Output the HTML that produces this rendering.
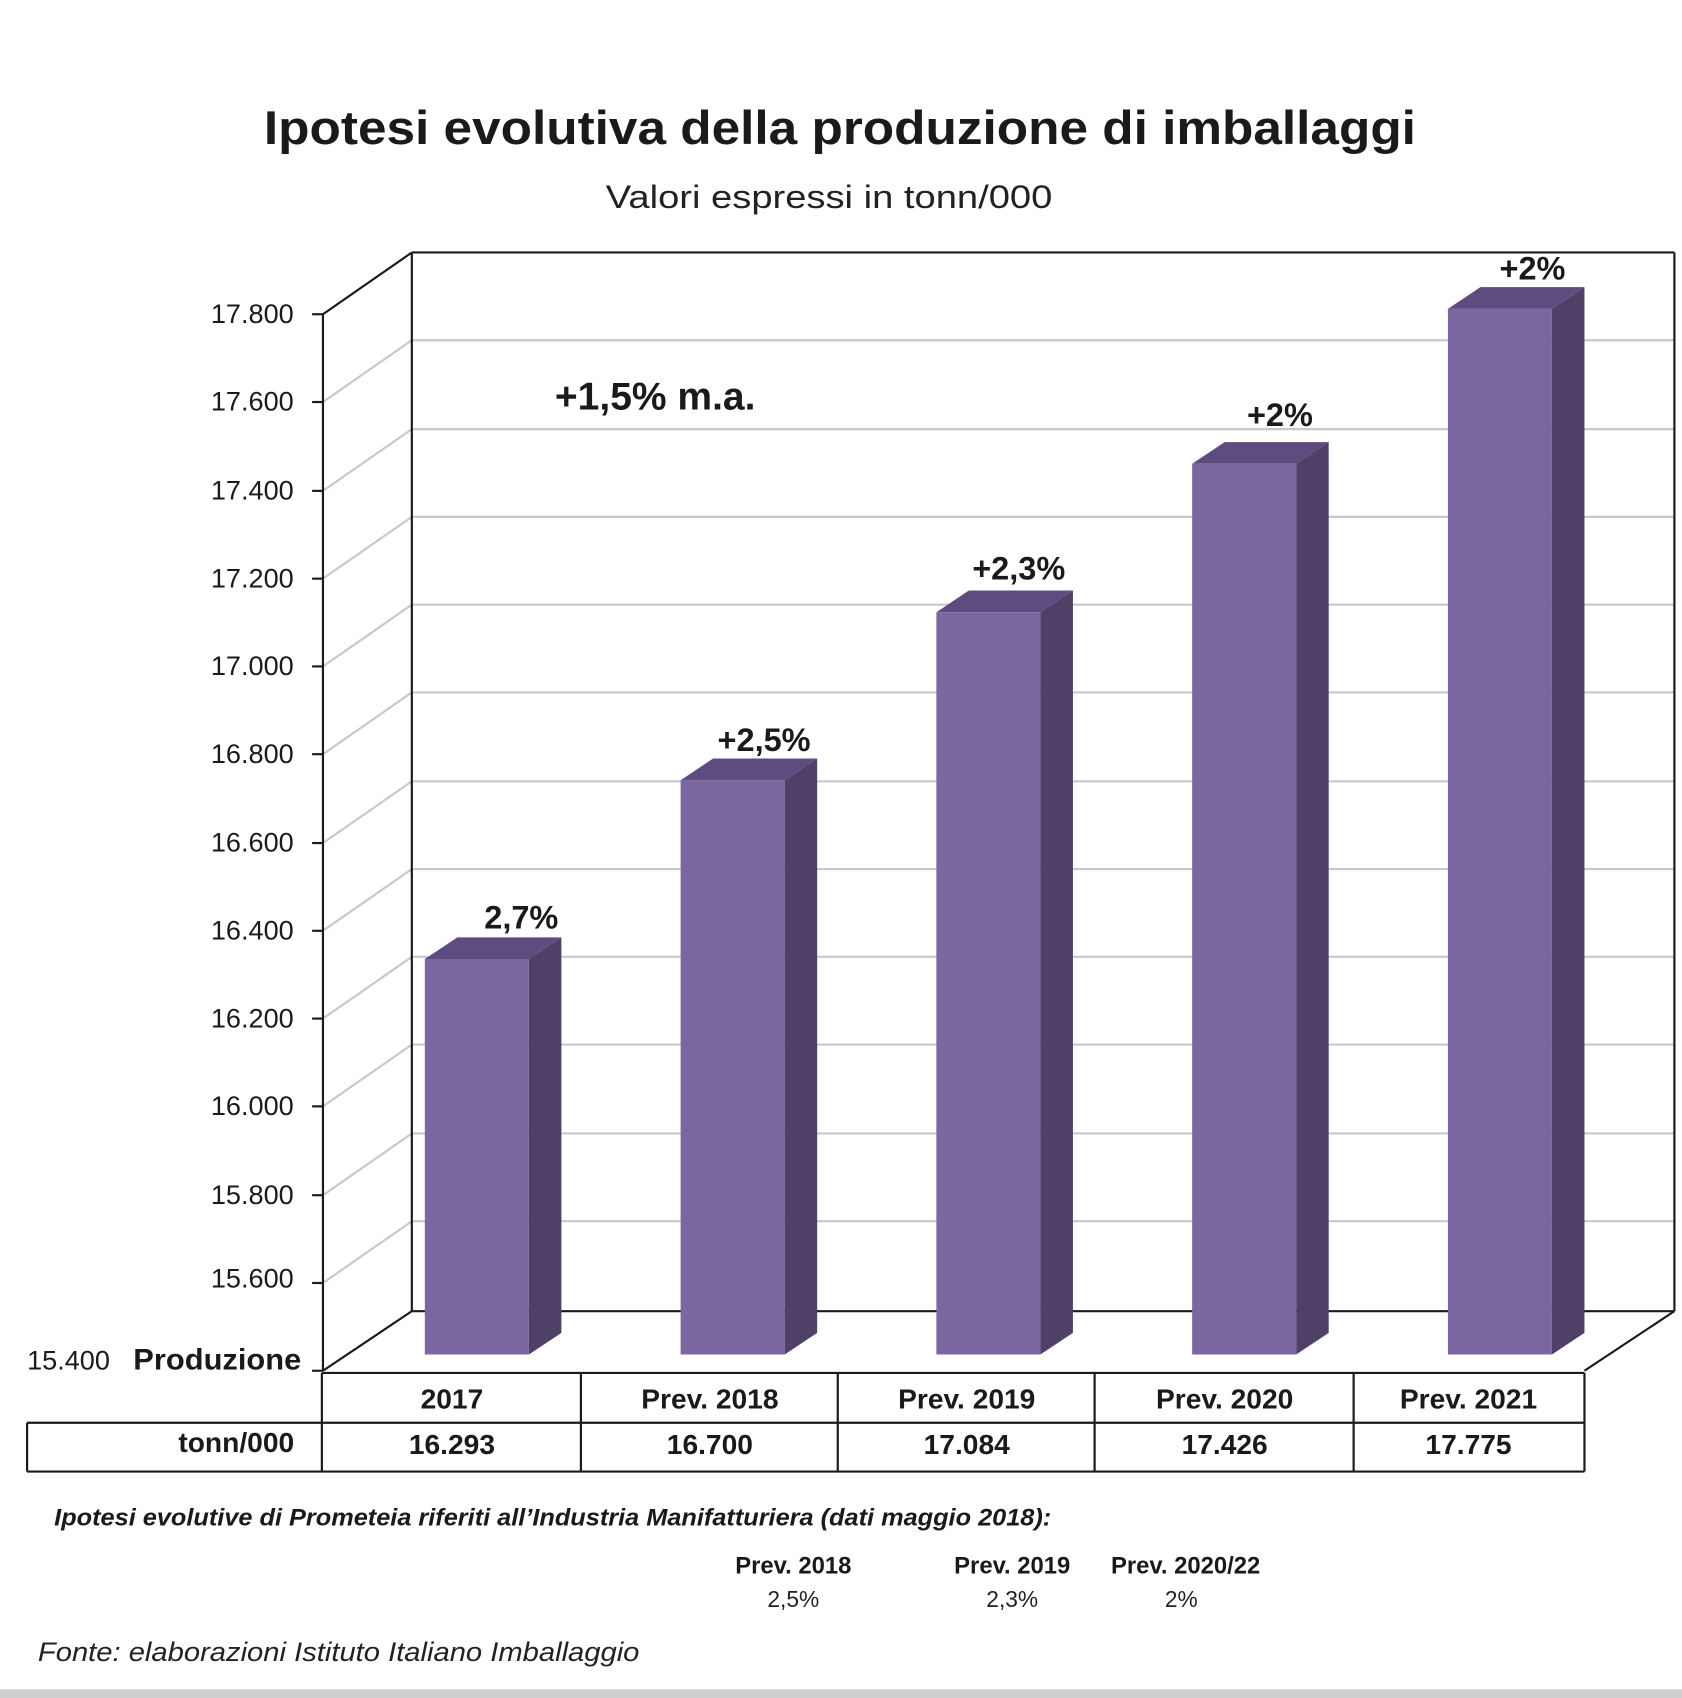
<!DOCTYPE html>
<html><head><meta charset="utf-8"><style>html,body{margin:0;padding:0;background:#fff}svg{display:block}</style></head>
<body>
<svg width="1682" height="1698" viewBox="0 0 1552 1567" preserveAspectRatio="none" xmlns="http://www.w3.org/2000/svg" font-family="Liberation Sans, sans-serif">
<rect width="1552" height="1567" fill="#fff"/>
<text x="775" y="133" text-anchor="middle" font-size="44" font-weight="bold" fill="#1a1a1a" textLength="1063" lengthAdjust="spacingAndGlyphs">Ipotesi evolutiva della produzione di imballaggi</text>
<text x="765" y="192" text-anchor="middle" font-size="30" fill="#222" textLength="412" lengthAdjust="spacingAndGlyphs">Valori espressi in tonn/000</text>
<g stroke="#c8c8c8" stroke-width="2" fill="none">
<line x1="298" y1="371" x2="380" y2="314"/><line x1="380" y1="314" x2="1545" y2="314"/>
<line x1="298" y1="453" x2="380" y2="396"/><line x1="380" y1="396" x2="1545" y2="396"/>
<line x1="298" y1="534" x2="380" y2="477"/><line x1="380" y1="477" x2="1545" y2="477"/>
<line x1="298" y1="615" x2="380" y2="558"/><line x1="380" y1="558" x2="1545" y2="558"/>
<line x1="298" y1="696" x2="380" y2="639"/><line x1="380" y1="639" x2="1545" y2="639"/>
<line x1="298" y1="778" x2="380" y2="721"/><line x1="380" y1="721" x2="1545" y2="721"/>
<line x1="298" y1="859" x2="380" y2="802"/><line x1="380" y1="802" x2="1545" y2="802"/>
<line x1="298" y1="940" x2="380" y2="883"/><line x1="380" y1="883" x2="1545" y2="883"/>
<line x1="298" y1="1021" x2="380" y2="964"/><line x1="380" y1="964" x2="1545" y2="964"/>
<line x1="298" y1="1103" x2="380" y2="1046"/><line x1="380" y1="1046" x2="1545" y2="1046"/>
<line x1="298" y1="1184" x2="380" y2="1127"/><line x1="380" y1="1127" x2="1545" y2="1127"/>
</g>
<g stroke="#1a1a1a" stroke-width="2" fill="none">
<line x1="380" y1="233" x2="1545" y2="233"/>
<line x1="380" y1="233" x2="380" y2="1210"/>
<line x1="1545" y1="233" x2="1545" y2="1210"/>
<line x1="298" y1="290" x2="380" y2="233"/>
<line x1="298" y1="290" x2="298" y2="1265"/>
<line x1="380" y1="1210" x2="1545" y2="1210"/>
<line x1="298" y1="1265" x2="380" y2="1210"/>
<line x1="1462" y1="1265" x2="1545" y2="1210"/>
</g>
<g stroke="#1a1a1a" stroke-width="2">
<line x1="288" y1="290" x2="298" y2="290"/><line x1="288" y1="371" x2="298" y2="371"/><line x1="288" y1="453" x2="298" y2="453"/><line x1="288" y1="534" x2="298" y2="534"/><line x1="288" y1="615" x2="298" y2="615"/><line x1="288" y1="696" x2="298" y2="696"/><line x1="288" y1="778" x2="298" y2="778"/><line x1="288" y1="859" x2="298" y2="859"/><line x1="288" y1="940" x2="298" y2="940"/><line x1="288" y1="1021" x2="298" y2="1021"/><line x1="288" y1="1103" x2="298" y2="1103"/><line x1="288" y1="1184" x2="298" y2="1184"/><line x1="288" y1="1265" x2="298" y2="1265"/>
</g>
<g font-size="25" fill="#1a1a1a" text-anchor="end">
<text x="271" y="298">17.800</text><text x="271" y="379">17.600</text><text x="271" y="461">17.400</text><text x="271" y="542">17.200</text><text x="271" y="623">17.000</text><text x="271" y="704">16.800</text><text x="271" y="786">16.600</text><text x="271" y="867">16.400</text><text x="271" y="948">16.200</text><text x="271" y="1029">16.000</text><text x="271" y="1111">15.800</text><text x="271" y="1188">15.600</text>
</g>
<text x="25" y="1264" font-size="25" fill="#1a1a1a">15.400</text>
<text x="123" y="1264" font-size="27" font-weight="bold" fill="#1a1a1a" textLength="155" lengthAdjust="spacingAndGlyphs">Produzione</text>
<g>
<polygon points="392,885 422,865 518,865 488,885" fill="#5e4c80"/><polygon points="488,885 518,865 518,1230 488,1250" fill="#4e4066"/><rect x="392" y="885" width="96" height="365" fill="#7b67a0"/>
<polygon points="628,720 658,700 754,700 724,720" fill="#5e4c80"/><polygon points="724,720 754,700 754,1230 724,1250" fill="#4e4066"/><rect x="628" y="720" width="96" height="530" fill="#7b67a0"/>
<polygon points="864,565 894,545 990,545 960,565" fill="#5e4c80"/><polygon points="960,565 990,545 990,1230 960,1250" fill="#4e4066"/><rect x="864" y="565" width="96" height="685" fill="#7b67a0"/>
<polygon points="1100,428 1130,408 1226,408 1196,428" fill="#5e4c80"/><polygon points="1196,428 1226,408 1226,1230 1196,1250" fill="#4e4066"/><rect x="1100" y="428" width="96" height="822" fill="#7b67a0"/>
<polygon points="1336,285 1366,265 1462,265 1432,285" fill="#5e4c80"/><polygon points="1432,285 1462,265 1462,1230 1432,1250" fill="#4e4066"/><rect x="1336" y="285" width="96" height="965" fill="#7b67a0"/>
</g>
<g font-size="30" font-weight="bold" fill="#1a1a1a" text-anchor="middle">
<text x="481" y="857">2,7%</text><text x="705" y="693">+2,5%</text><text x="940" y="535">+2,3%</text><text x="1181" y="393">+2%</text><text x="1414" y="258">+2%</text>
</g>
<text x="512" y="378" font-size="36" font-weight="bold" fill="#1a1a1a">+1,5% m.a.</text>
<g stroke="#1a1a1a" stroke-width="2" fill="none">
<line x1="297" y1="1267" x2="1462" y2="1267"/>
<line x1="25" y1="1313" x2="1462" y2="1313"/>
<line x1="25" y1="1358" x2="1462" y2="1358"/>
<line x1="25" y1="1313" x2="25" y2="1358"/>
<line x1="297" y1="1267" x2="297" y2="1358"/>
<line x1="536" y1="1267" x2="536" y2="1358"/>
<line x1="773" y1="1267" x2="773" y2="1358"/>
<line x1="1010" y1="1267" x2="1010" y2="1358"/>
<line x1="1249" y1="1267" x2="1249" y2="1358"/>
<line x1="1462" y1="1267" x2="1462" y2="1358"/>
</g>
<g font-size="26" font-weight="bold" fill="#1a1a1a" text-anchor="middle">
<text x="417" y="1300">2017</text><text x="655" y="1300">Prev. 2018</text><text x="892" y="1300">Prev. 2019</text><text x="1130" y="1300">Prev. 2020</text><text x="1355" y="1300">Prev. 2021</text>
<text x="417" y="1342">16.293</text><text x="655" y="1342">16.700</text><text x="892" y="1342">17.084</text><text x="1130" y="1342">17.426</text><text x="1355" y="1342">17.775</text>
<text x="218" y="1340">tonn/000</text>
</g>
<text x="50" y="1408" font-size="22" font-weight="bold" font-style="italic" fill="#1a1a1a" textLength="920" lengthAdjust="spacingAndGlyphs">Ipotesi evolutive di Prometeia riferiti all’Industria Manifatturiera (dati maggio 2018):</text>
<g font-size="22" font-weight="bold" fill="#1a1a1a" text-anchor="middle">
<text x="732" y="1452">Prev. 2018</text><text x="934" y="1452">Prev. 2019</text><text x="1094" y="1452">Prev. 2020/22</text>
</g>
<g font-size="21" fill="#222" text-anchor="middle">
<text x="732" y="1483">2,5%</text><text x="934" y="1483">2,3%</text><text x="1090" y="1483">2%</text>
</g>
<text x="35" y="1533" font-size="25" font-style="italic" fill="#222" textLength="555" lengthAdjust="spacingAndGlyphs">Fonte: elaborazioni Istituto Italiano Imballaggio</text>
<rect x="0" y="1559" width="1552" height="8" fill="#cfcfcf"/>
</svg>
</body></html>
